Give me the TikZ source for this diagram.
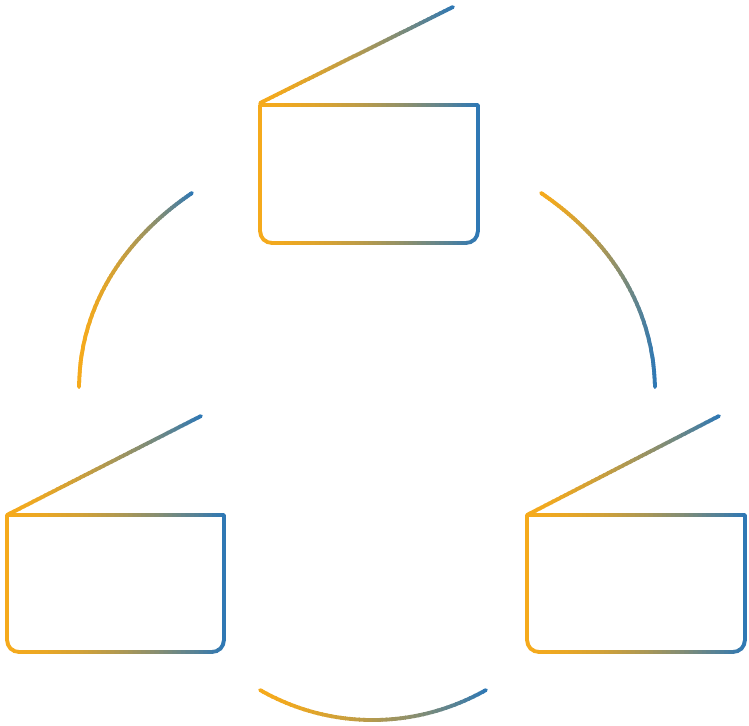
\documentclass[tikz,border=0pt]{standalone}
\definecolor{myorange}{HTML}{F5AA1C}
\definecolor{myblue}{HTML}{2F78B4}
\tikzset{gline/.style={line width=3.8pt,line cap=round,line join=round}}
\newcommand{\gradpath}[3]{%
  \foreach \i in {0,...,49}{%
    \pgfmathsetmacro{\xa}{#1+(#2-#1)*\i/50-0.6}%
    \pgfmathsetmacro{\xb}{#1+(#2-#1)*(\i+1)/50+0.6}%
    \pgfmathsetmacro{\pp}{100*(\i/49)^1.6}%
    \colorlet{gc}{myblue!\pp!myorange}%
    \begin{scope}
      \clip (\xa,-10) rectangle (\xb,740);
      \draw[gline,gc] #3;
    \end{scope}}}
\begin{document}
\begin{tikzpicture}[x=1pt,y=-1pt]
\useasboundingbox (0,0) rectangle (749,725);
% top board
\gradpath{258}{480}{(260,105) -- (478,105) {[rounded corners=12pt] -- (478,243) -- (260,243)} -- cycle}
\gradpath{258}{455}{(260,103) -- (453,7)}
% left board
\gradpath{5}{226}{(7,515) -- (224,515) {[rounded corners=12pt] -- (224,652) -- (7,652)} -- cycle}
\gradpath{5}{203}{(7,515) -- (201,416)}
% right board
\gradpath{525}{747}{(527,515) -- (745,515) {[rounded corners=12pt] -- (745,652) -- (527,652)} -- cycle}
\gradpath{525}{721}{(527,515) -- (719,416)}
% arcs
\gradpath{77}{194}{(79,387) .. controls (80,300) and (130,235) .. (192,193)}
\gradpath{539}{657}{(541,193) .. controls (603,235) and (653,300) .. (655,387)}
\gradpath{258}{488}{(260,690) .. controls (330,730) and (415,730) .. (486,690)}
\end{tikzpicture}
\end{document}
